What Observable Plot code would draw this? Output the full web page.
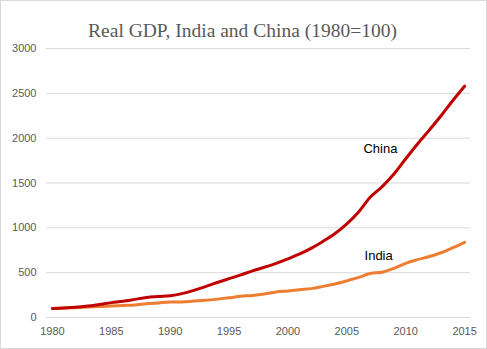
<!DOCTYPE html>
<html>
<head>
<meta charset="utf-8">
<script src="https://cdn.jsdelivr.net/npm/d3@7"></script>
<script src="https://cdn.jsdelivr.net/npm/@observablehq/plot@0.6"></script>
<style>
  html, body { margin: 0; padding: 0; background: #fff; }
  #wrap { position: relative; width: 487px; height: 349px; }
  #border { position: absolute; left: 0; top: 0; width: 485px; height: 347px; border: 1px solid #d9d9d9; pointer-events: none; }
</style>
</head>
<body>
<div id="wrap"><div id="chart"></div><div id="border"></div></div>
<script>
const titleText = "Real GDP, India and China (1980=100)";
const years = d3.range(1980, 2016);
const chinaValues = [100, 105, 115, 127, 146, 166, 181, 202, 224, 234, 243, 266, 303, 345, 390, 433,
  476, 520, 560, 603, 655, 709, 774, 851, 937, 1044, 1176, 1343, 1460, 1600, 1770, 1935, 2090, 2250, 2420, 2580];
const indiaValues = [100, 106, 110, 118, 122, 129, 135, 140, 154, 163, 172, 174, 183, 192, 205, 220,
  237, 246, 262, 285, 296, 310, 322, 347, 374, 409, 447, 491, 505, 548, 604, 645, 680, 722, 778, 838];
const xTicks = [1980, 1985, 1990, 1995, 2000, 2005, 2010, 2015];
const yTicks = [0, 500, 1000, 1500, 2000, 2500, 3000];
const seriesLabels = [
  {label: "China", year: 2007.85, value: 1877},
  {label: "India", year: 2007.7, value: 693}
];

const china = years.map((y, i) => ({year: y, value: chinaValues[i]}));
const india = years.map((y, i) => ({year: y, value: indiaValues[i]}));

const plot = Plot.plot({
  width: 487,
  height: 349,
  marginLeft: 46,
  marginRight: 17,
  marginTop: 48,
  marginBottom: 32,
  style: {fontFamily: "'Liberation Sans', Arial, sans-serif", fontSize: "11px", color: "#595959", background: "transparent"},
  x: {domain: [1979.5, 2015.5], ticks: xTicks, tickFormat: d => String(d), tickSize: 0, tickPadding: 10, label: null},
  y: {domain: [0, 3000], ticks: yTicks, tickFormat: d => String(d), tickSize: 0, tickPadding: 10, label: null, grid: false},
  marks: [
    Plot.ruleY(yTicks, {stroke: "#d9d9d9", strokeWidth: 1}),
    Plot.line(india, {x: "year", y: "value", stroke: "#ED7D31", strokeWidth: 3, curve: "monotone-x"}),
    Plot.line(china, {x: "year", y: "value", stroke: "#C00000", strokeWidth: 3, curve: "monotone-x"}),
    Plot.text(seriesLabels, {x: "year", y: "value", text: "label", fill: "#000", fontSize: 13,
      fontFamily: "'Liberation Sans', Arial, sans-serif"}),
    Plot.text([titleText], {frameAnchor: "top", dy: -25, dx: -16, fontSize: 19.5, fill: "#595959",
      fontFamily: "'Liberation Serif', 'Times New Roman', serif"})
  ]
});
document.getElementById("chart").appendChild(plot);
</script>
</body>
</html>
